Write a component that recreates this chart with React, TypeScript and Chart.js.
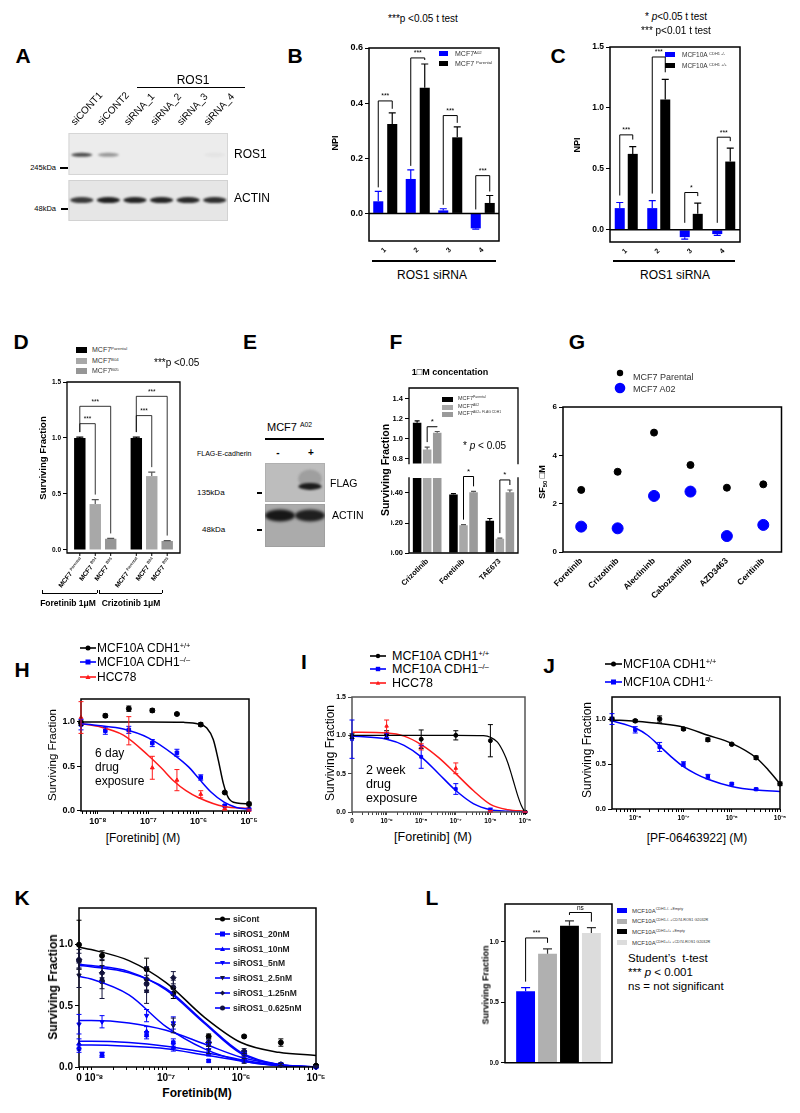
import React, { useEffect, useRef } from 'react';
import { Chart, registerables } from 'chart.js';

Chart.register(...registerables);

const FONT = '"Liberation Sans", Arial, Helvetica, sans-serif';
Chart.defaults.font.family = FONT;
Chart.defaults.color = '#000';

const BLUE = '#0000ff';
const RED = '#ff1a1a';

// ---------------- DATA ----------------
// A: western blot band intensities
const aLanes = ['siCONT1', 'siCONT2', 'siRNA_1', 'siRNA_2', 'siRNA_3', 'siRNA_4'];
const aRos1Band = [0.72, 0.38, 0, 0, 0, 0.04];
const aActinBand = [0.8, 0.92, 0.9, 0.9, 0.88, 0.85];

// B
const bSiRNA = ['1', '2', '3', '4'];
const bA02 = [0.044, 0.125, 0.011, -0.054];
const bA02Err = [0.036, 0.033, 0.006, 0.003];
const bParental = [0.324, 0.456, 0.276, 0.038];
const bParentalErr = [0.041, 0.086, 0.038, 0.027];
const bSig = [0.408, 0.564, 0.355, 0.137];
const bSigText = ['***', '***', '***', '***'];
const bYTicks = [0, 0.2, 0.4, 0.6];

// C
const cSiRNA = ['1', '2', '3', '4'];
const cKO = [0.178, 0.178, -0.06, -0.035];
const cKOErr = [0.046, 0.062, 0.016, 0.011];
const cWT = [0.623, 1.07, 0.131, 0.56];
const cWTErr = [0.06, 0.165, 0.088, 0.11];
const cSig = [0.779, 1.418, 0.306, 0.76];
const cSigText = ['***', '***', '*', '***'];
const cYTicks = [0, 0.5, 1.0, 1.5];

// D
const dDrugs = ['Foretinib 1μM', 'Crizotinib 1μM'];
const dParental = [1.0, 1.0];
const dParentalErr = [0.008, 0.008];
const dB04 = [0.41, 0.66];
const dB04Err = [0.04, 0.035];
const dB05 = [0.1, 0.08];
const dB05Err = [0.003, 0.004];
const dSigNear = [1.128, 1.2];
const dSigFar = [1.283, 1.372];
const dBarLabels = [['MCF7', 'Parental'], ['MCF7', 'B04'], ['MCF7', 'B05']];
const dYTicks = [0, 0.5, 1.0, 1.5];

// E: blot
const eLanes = ['-', '+'];
const eFlagBand = [0, 0.92];
const eActinBand = [0.95, 0.9];

// F
const fDrugs = ['Crizotinib', 'Foretinib', 'TAE673'];
const fParental = [1.16, 0.39, 0.215];
const fParentalErr = [0.02, 0.006, 0.015];
const fA02 = [0.89, 0.185, 0.095];
const fA02Err = [0.025, 0.004, 0.004];
const fFlag = [1.06, 0.405, 0.405];
const fFlagErr = [0.012, 0.006, 0.015];
const fSig = [1.12, 0.51, 0.487];
const fUpperTicks = [0.8, 1.0, 1.2, 1.4];
const fLowerTicks = [0, 0.2, 0.4];

// G
const gDrugs = ['Foretinib', 'Crizotinib', 'Alectininb', 'Cabozantinib', 'AZD3463', 'Ceritinib'];
const gParental = [2.57, 3.32, 4.94, 3.6, 2.66, 2.8];
const gA02 = [1.05, 0.98, 2.32, 2.5, 0.66, 1.12];
const gYTicks = [0, 2, 4, 6];

// H
const hConc = [4.6e-9, 1.4e-8, 4.1e-8, 1.2e-7, 3.7e-7, 1.1e-6, 3.3e-6, 1e-5];
const hWT = [0.99, 1.07, 1.15, 1.13, 1.09, 0.97, 0.2, 0.07];
const hWTErr = [0.03, 0.02, 0.03, 0.02, 0.01, 0.02, 0.01, 0.02];
const hKO = [0.97, 0.9, 0.91, 0.76, 0.65, 0.37, 0.05, 0.01];
const hKOErr = [0.06, 0.04, 0.04, 0.04, 0.04, 0.03, 0.01, 0.01];
const hHCC = [1.05, null, 0.9, 0.48, 0.34, 0.18, 0.02, 0.0];
const hHCCErr = [0.18, null, 0.16, 0.13, 0.12, 0.04, 0.02, 0.01];
const hWTFitX = [4.6e-9, 1e-7, 5e-7, 1e-6, 1.45e-6, 1.95e-6, 2.45e-6, 3.1e-6, 3.9e-6, 5.75e-6, 1e-5];
const hWTFitY = [1.0, 1.0, 0.995, 0.975, 0.93, 0.8, 0.57, 0.3, 0.14, 0.08, 0.07];
const hKOFitX = [4.6e-9, 1e-8, 3.2e-8, 1e-7, 3.2e-7, 6.3e-7, 1e-6, 1.8e-6, 3.2e-6, 5.6e-6, 1e-5];
const hKOFitY = [0.98, 0.96, 0.92, 0.82, 0.63, 0.49, 0.36, 0.2, 0.09, 0.03, 0.01];
const hHCCFitX = [4.6e-9, 1e-8, 3.2e-8, 1e-7, 1.8e-7, 3.2e-7, 5.6e-7, 1e-6, 3.2e-6, 1e-5];
const hHCCFitY = [0.98, 0.95, 0.85, 0.62, 0.48, 0.33, 0.22, 0.14, 0.04, 0.02];
const hXTicks = [1e-8, 1e-7, 1e-6, 1e-5];
const hXTickLabels = ['10⁻⁸', '10⁻⁷', '10⁻⁶', '10⁻⁵'];
const hYTicks = [0, 0.5, 1.0];

// I
const iConc = [1e-10, 1e-9, 1e-8, 1e-7, 1e-6, 1e-5];
const iWT = [0.99, 1.01, 0.95, 1.0, 0.93, 0.0];
const iWTErr = [0.03, 0.05, 0.12, 0.06, 0.21, 0.01];
const iKO = [0.95, 1.0, 0.72, 0.3, 0.03, 0.0];
const iKOErr = [0.25, 0.03, 0.15, 0.07, 0.02, 0.0];
const iHCC = [null, 1.12, 0.85, 0.57, 0.01, 0.0];
const iHCCErr = [null, 0.08, 0.04, 0.07, 0.01, 0.0];
const iWTFitX = [1e-10, 1e-8, 1e-7, 6.3e-7, 1e-6, 1.6e-6, 2.5e-6, 3.2e-6, 4e-6, 5e-6, 6.3e-6, 7.9e-6, 1e-5];
const iWTFitY = [1.0, 1.0, 1.0, 0.995, 0.975, 0.91, 0.76, 0.64, 0.5, 0.35, 0.2, 0.08, 0.0];
const iFitX = [1e-10, 1e-9, 3.2e-9, 1e-8, 3.2e-8, 1e-7, 3.2e-7, 1e-6, 3.2e-6, 1e-5];
const iHCCFitY = [1.04, 1.03, 0.99, 0.88, 0.71, 0.5, 0.28, 0.1, 0.03, 0.01];
const iKOFitY = [0.99, 0.95, 0.87, 0.72, 0.5, 0.28, 0.11, 0.03, 0.01, 0.0];
const iXTicks = [1e-10, 1e-9, 1e-8, 1e-7, 1e-6, 1e-5];
const iXTickLabels = ['0', '10⁻⁹', '10⁻⁸', '10⁻⁷', '10⁻⁶', '10⁻⁵'];
const iYTicks = [0, 0.5, 1.0, 1.5];

// J
const jConc = [3.3e-9, 1e-8, 3.2e-8, 1e-7, 3.2e-7, 1e-6, 3.2e-6, 1e-5];
const jWT = [1.0, 0.98, 1.0, 0.89, 0.77, 0.72, 0.57, 0.28];
const jWTErr = [0.02, 0.015, 0.035, 0.015, 0.02, 0.01, 0.02, 0.02];
const jKO = [1.0, 0.88, 0.69, 0.5, 0.36, 0.28, 0.22, null];
const jKOErr = [0.06, 0.035, 0.05, 0.025, 0.025, 0.01, 0.01, null];
const jWTFitX = [3.3e-9, 1e-8, 3.2e-8, 1e-7, 3.2e-7, 1e-6, 3.2e-6, 5.6e-6, 1e-5];
const jWTFitY = [0.99, 0.975, 0.95, 0.91, 0.82, 0.73, 0.57, 0.44, 0.28];
const jKOFitX = [3.3e-9, 1e-8, 1.8e-8, 3.2e-8, 5.6e-8, 1e-7, 1.8e-7, 3.2e-7, 1e-6, 3.2e-6, 1e-5];
const jKOFitY = [0.98, 0.9, 0.82, 0.7, 0.58, 0.47, 0.39, 0.33, 0.25, 0.21, 0.195];
const jXTicks = [1e-8, 1e-7, 1e-6, 1e-5];
const jXTickLabels = ['10⁻⁸', '10⁻⁷', '10⁻⁶', '10⁻⁵'];
const jYTicks = [0, 0.5, 1.0];

// K
const kSeries = ['siCont', 'siROS1_20nM', 'siROS1_10nM', 'siROS1_5nM', 'siROS1_2.5nM', 'siROS1_1.25nM', 'siROS1_0.625nM'];
const kConc = [6.9e-9, 1.4e-8, 5.5e-8, 1.25e-7, 3.7e-7, 1.1e-6, 3.4e-6, 1e-5];
const kSiCont = [1.0, 0.91, 0.8, 0.6, 0.25, 0.25, 0.2, 0.01];
const kSiContErr = [0.2, 0.04, 0.09, 0.04, 0.02, 0.01, 0.03, 0.01];
const k20 = [0.15, 0.1, 0.26, 0.2, 0.05, 0.05, 0.02, 0.0];
const k20Err = [0.03, 0.02, 0.03, 0.03, 0.01, 0.01, 0.01, 0.0];
const k10 = [0.19, 0.1, 0.29, 0.16, 0.11, 0.07, 0.02, 0.0];
const k10Err = [0.04, 0.02, 0.04, 0.03, 0.02, 0.01, 0.01, 0.0];
const k5 = [0.35, 0.37, 0.42, 0.36, 0.18, 0.11, 0.02, 0.0];
const k5Err = [0.08, 0.05, 0.05, 0.05, 0.03, 0.02, 0.01, 0.0];
const k2p5 = [0.75, 0.72, 0.62, 0.34, 0.14, 0.05, 0.02, 0.0];
const k2p5Err = [0.1, 0.16, 0.1, 0.06, 0.03, 0.02, 0.01, 0.0];
const k1p25 = [0.88, 0.77, 0.72, 0.73, 0.2, 0.13, 0.02, 0.0];
const k1p25Err = [0.08, 0.06, 0.1, 0.05, 0.03, 0.02, 0.01, 0.0];
const k0p625 = [0.87, 0.7, 0.68, 0.65, 0.2, 0.11, 0.02, 0.01];
const k0p625Err = [0.06, 0.06, 0.07, 0.06, 0.03, 0.02, 0.01, 0.0];
const kFitX = [6.9e-9, 1e-8, 3.2e-8, 1e-7, 3.2e-7, 1e-6, 3.2e-6, 1e-5];
const kSiContFit = [0.98, 0.96, 0.87, 0.69, 0.41, 0.2, 0.12, 0.095];
const k20Fit = [0.18, 0.18, 0.17, 0.15, 0.1, 0.05, 0.012, 0.0];
const k10Fit = [0.21, 0.21, 0.2, 0.17, 0.12, 0.06, 0.015, 0.0];
const k5Fit = [0.38, 0.38, 0.36, 0.3, 0.19, 0.08, 0.02, 0.0];
const k2p5Fit = [0.74, 0.72, 0.59, 0.33, 0.15, 0.05, 0.01, 0.0];
const k1p25Fit = [0.83, 0.82, 0.77, 0.64, 0.37, 0.12, 0.02, 0.0];
const k0p625Fit = [0.84, 0.83, 0.78, 0.63, 0.36, 0.11, 0.02, 0.0];
const kXTicks = [6.9e-9, 1e-8, 1e-7, 1e-6, 1e-5];
const kXTickLabels = ['0', '  10⁻⁸', '10⁻⁷', '10⁻⁶', '10⁻⁵'];
const kYTicks = [0, 0.5, 1.0];

// L
const lGroups = ['CDH1-/- +Empty', 'CDH1-/- +CD74-ROS1 G2032R', 'CDH1+/+ +Empty', 'CDH1+/+ +CD74-ROS1 G2032R'];
const lValues = [0.59, 0.9, 1.13, 1.07];
const lErr = [0.03, 0.04, 0.04, 0.045];
const lSig = [1.03, 1.24];
const lSigText = ['***', 'ns'];
const lYTicks = [0, 0.5, 1.0];
const lColors = [BLUE, '#b0b0b0', '#000', '#dcdcdc'];

// ---------------- helpers ----------------
type Pad = { l: number; t: number; r: number; b: number };
function box(L: number, T: number, R: number, B: number, yw: number, xh: number, pad: Pad) {
  const left = L - yw - pad.l;
  const top = T - pad.t;
  return { rect: [left, top, R + pad.r - left, B + xh + pad.b - top], pad, yw, xh };
}

function opts(b: any, scales: any) {
  return {
    responsive: false,
    maintainAspectRatio: false,
    animation: false,
    devicePixelRatio: 1,
    events: [],
    layout: { padding: { left: b.pad.l, top: b.pad.t, right: b.pad.r, bottom: b.pad.b } },
    scales,
    plugins: { legend: { display: false }, tooltip: { enabled: false } },
  };
}

function linY(min: number, max: number, ticks: number[], dec: number, size: number, yw: number, color = '#000') {
  return {
    type: 'linear',
    min,
    max,
    grid: { display: true, drawOnChartArea: false, drawTicks: true, tickLength: 4, color, lineWidth: 1 },
    border: { display: false },
    ticks: { font: { size, weight: 'bold', family: FONT }, color: '#000', padding: 2, callback: (v: any) => Number(v).toFixed(dec) },
    afterBuildTicks: (s: any) => { s.ticks = ticks.map((v) => ({ value: v })); },
    afterFit: (s: any) => { s.width = yw; },
  };
}

function catX(xh: number, size: number, rot: number, pad: number, display = true) {
  return {
    type: 'category',
    display,
    offset: true,
    grid: { display: false, drawTicks: false },
    border: { display: false },
    ticks: { font: { size, weight: 'bold', family: FONT }, color: '#000', minRotation: rot, maxRotation: rot, autoSkip: false, padding: pad },
    afterFit: (s: any) => { s.height = xh; },
  };
}

function logTicks(min: number, max: number, major: number[]) {
  const out = [...major];
  for (let d = Math.floor(Math.log10(min)); d <= Math.ceil(Math.log10(max)); d++) {
    for (let k = 2; k <= 9; k++) {
      const v = k * Math.pow(10, d);
      if (v > min * 1.0001 && v < max * 0.9999) out.push(v);
    }
  }
  return out.sort((a, b) => a - b);
}

function logX(min: number, max: number, vals: number[], labels: string[], size: number, xh: number, bold = false, color = '#000') {
  return {
    type: 'logarithmic',
    min,
    max,
    grid: { display: true, drawOnChartArea: false, drawTicks: true, tickLength: 3, color, lineWidth: 1 },
    border: { display: false },
    ticks: {
      autoSkip: false,
      maxRotation: 0,
      minRotation: 0,
      padding: 2,
      color: '#000',
      font: { size, weight: bold ? 'bold' : 'normal', family: FONT },
      callback: (v: any) => {
        const k = vals.findIndex((t) => Math.abs(t - v) / t < 1e-4);
        return k >= 0 ? labels[k] : '';
      },
    },
    afterBuildTicks: (s: any) => { s.ticks = logTicks(min, max, vals).map((v) => ({ value: v })); },
    afterFit: (s: any) => { s.height = xh; },
  };
}

// ---------------- plugins ----------------
function framePlugin(o: { sides: string; width?: number; color?: string; zero?: boolean }) {
  return {
    id: 'frame',
    afterDatasetsDraw(chart: any) {
      const { left, right, top, bottom } = chart.chartArea;
      const ctx = chart.ctx;
      ctx.save();
      ctx.strokeStyle = o.color || '#000';
      ctx.lineWidth = o.width || 1.5;
      ctx.lineCap = 'square';
      ctx.beginPath();
      if (o.sides.includes('t')) { ctx.moveTo(left, top); ctx.lineTo(right, top); }
      if (o.sides.includes('b')) { ctx.moveTo(left, bottom); ctx.lineTo(right, bottom); }
      if (o.sides.includes('l')) { ctx.moveTo(left, top); ctx.lineTo(left, bottom); }
      if (o.sides.includes('r')) { ctx.moveTo(right, top); ctx.lineTo(right, bottom); }
      if (o.zero) {
        const y = chart.scales.y.getPixelForValue(0);
        ctx.moveTo(left, y); ctx.lineTo(right, y);
      }
      ctx.stroke();
      ctx.restore();
    },
  };
}

const errPlugin = {
  id: 'errs',
  afterDatasetsDraw(chart: any) {
    const ctx = chart.ctx;
    const area = chart.chartArea;
    chart.data.datasets.forEach((ds: any, di: number) => {
      if (!ds.err) return;
      const meta = chart.getDatasetMeta(di);
      const ys = chart.scales[meta.yAxisID];
      ctx.save();
      ctx.beginPath();
      ctx.rect(0, area.top - 3, chart.width, area.bottom - area.top + 6);
      ctx.clip();
      ctx.strokeStyle = ds.errColor || '#000';
      ctx.lineWidth = ds.errWidth || 1.2;
      meta.data.forEach((el: any, i: number) => {
        const e = ds.err[i];
        const raw = ds.data[i];
        if (e == null || raw == null) return;
        const v = typeof raw === 'number' ? raw : raw.y;
        if (v == null) return;
        const cap = ds.cap ?? 3;
        const y0 = ys.getPixelForValue(v);
        const draw = (val: number) => {
          const y = ys.getPixelForValue(val);
          ctx.beginPath();
          ctx.moveTo(el.x, y0);
          ctx.lineTo(el.x, y);
          ctx.moveTo(el.x - cap, y);
          ctx.lineTo(el.x + cap, y);
          ctx.stroke();
        };
        if (ds.errMode === 'up') draw(v >= 0 ? v + e : v - e);
        else { draw(v + e); draw(v - e); }
      });
      ctx.restore();
    });
  },
};

function bracketPlugin(items: any[], o: { gap: number; size: number; width?: number }) {
  return {
    id: 'brackets',
    afterDatasetsDraw(chart: any) {
      const ctx = chart.ctx;
      const ys = chart.scales.y;
      const topOf = (di: number, i: number) => {
        const ds = chart.data.datasets[di];
        const v = ds.data[i];
        const e = ds.err ? ds.err[i] || 0 : 0;
        return v >= 0 ? v + e : 0;
      };
      ctx.save();
      ctx.strokeStyle = '#000';
      ctx.fillStyle = '#000';
      ctx.lineWidth = o.width || 1;
      ctx.font = `${o.size}px ${FONT}`;
      ctx.textAlign = 'center';
      ctx.textBaseline = 'bottom';
      for (const it of items) {
        const ea = chart.getDatasetMeta(it.a).data[it.i];
        const eb = chart.getDatasetMeta(it.b).data[it.i];
        const yA = ys.getPixelForValue(topOf(it.a, it.i)) - o.gap;
        const yB = ys.getPixelForValue(topOf(it.b, it.i)) - o.gap;
        const yL = ys.getPixelForValue(it.y);
        ctx.beginPath();
        ctx.moveTo(ea.x, yA);
        ctx.lineTo(ea.x, yL);
        ctx.lineTo(eb.x, yL);
        ctx.lineTo(eb.x, yB);
        ctx.stroke();
        ctx.fillText(it.text, (ea.x + eb.x) / 2, yL - 1);
      }
      ctx.restore();
    },
  };
}

function blotPlugin(strips: any[]) {
  return {
    id: 'blot',
    beforeDatasetsDraw(chart: any) {
      const ctx = chart.ctx;
      const { left, right, top, bottom } = chart.chartArea;
      const H = bottom - top;
      const xs = chart.scales.x;
      const laneW = (right - left) / chart.data.labels.length;
      for (const s of strips) {
        const y1 = top + s.from * H;
        const y2 = top + s.to * H;
        ctx.save();
        ctx.fillStyle = s.bg;
        ctx.fillRect(left, y1, right - left, y2 - y1);
        ctx.strokeStyle = s.edge;
        ctx.lineWidth = 1;
        ctx.strokeRect(left + 0.5, y1 + 0.5, right - left - 1, y2 - y1 - 1);
        ctx.restore();
        const by = y1 + s.pos * (y2 - y1);
        s.bands.forEach((a: number, i: number) => {
          if (!a) return;
          const cx = xs.getPixelForValue(i);
          ctx.save();
          ctx.beginPath();
          ctx.rect(left, y1, right - left, y2 - y1);
          ctx.clip();
          ctx.filter = `blur(${s.blur}px)`;
          if (s.halo) {
            ctx.fillStyle = `rgba(60,60,60,${a * s.halo})`;
            ctx.beginPath();
            ctx.ellipse(cx, by - s.h * 1.1, (laneW * s.w) / 2, s.h * 1.3, 0, 0, Math.PI * 2);
            ctx.fill();
          }
          ctx.fillStyle = `rgba(15,15,15,${a})`;
          ctx.beginPath();
          ctx.ellipse(cx, by, (laneW * s.w) / 2, s.h / 2, 0, 0, Math.PI * 2);
          ctx.fill();
          ctx.restore();
        });
      }
    },
  };
}

function barLabelPlugin(labels: string[][], size: number, angle: number) {
  return {
    id: 'barLabels',
    afterDraw(chart: any) {
      const ctx = chart.ctx;
      const ang = (angle * Math.PI) / 180;
      const bottom = chart.chartArea.bottom;
      chart.data.datasets.forEach((_ds: any, di: number) => {
        const meta = chart.getDatasetMeta(di);
        const [main, sup] = labels[di];
        meta.data.forEach((el: any) => {
          ctx.save();
          ctx.strokeStyle = '#000';
          ctx.lineWidth = 1;
          ctx.beginPath();
          ctx.moveTo(el.x, bottom);
          ctx.lineTo(el.x, bottom + 3);
          ctx.stroke();
          ctx.translate(el.x + 2, bottom + 6);
          ctx.rotate(-ang);
          ctx.font = `bold ${size}px ${FONT}`;
          const w1 = ctx.measureText(main + ' ').width;
          ctx.font = `bold ${size * 0.62}px ${FONT}`;
          const w2 = ctx.measureText(sup).width;
          const total = w1 + w2;
          ctx.textAlign = 'left';
          ctx.textBaseline = 'middle';
          ctx.fillStyle = '#000';
          ctx.font = `bold ${size}px ${FONT}`;
          ctx.fillText(main + ' ', -total, 0);
          ctx.fillStyle = '#333';
          ctx.font = `bold ${size * 0.62}px ${FONT}`;
          ctx.fillText(sup, -total + w1, -size * 0.3);
          ctx.restore();
        });
      });
    },
  };
}

function pts(xs: number[], ys: (number | null)[], es: (number | null)[], color: string, style: string, r = 2.5, rot = 0) {
  const idx = xs.map((_, i) => i).filter((i) => ys[i] != null);
  return {
    data: idx.map((i) => ({ x: xs[i], y: ys[i] })),
    err: idx.map((i) => es[i]),
    errColor: color,
    cap: 2.5,
    errWidth: 1,
    showLine: false,
    pointStyle: style,
    rotation: rot,
    pointRadius: r,
    pointBackgroundColor: color,
    pointBorderColor: color,
    borderColor: color,
    backgroundColor: color,
    clip: false,
  };
}

function fit(xs: number[], ys: number[], color: string, w = 1.5) {
  return {
    data: xs.map((x, i) => ({ x, y: ys[i] })),
    showLine: true,
    pointRadius: 0,
    borderColor: color,
    borderWidth: w,
    cubicInterpolationMode: 'monotone',
    fill: false,
  };
}

// ---------------- chart definitions ----------------
const bBox = box(369, 48, 499, 241, 30, 14, { l: 2, t: 8, r: 6, b: 0 });
const cBox = box(610, 47, 740, 242, 28, 14, { l: 2, t: 8, r: 6, b: 0 });
const dBox = box(67, 382, 180, 553, 20, 0, { l: 20, t: 8, r: 6, b: 40 });
const fUBox = box(409, 388, 518, 468, 18, 0, { l: 6, t: 10, r: 6, b: 2 });
const fLBox = box(409, 478, 518, 553, 18, 42, { l: 6, t: 10, r: 6, b: 0 });
const gBox = box(563, 407, 782, 552, 20, 48, { l: 12, t: 8, r: 6, b: 0 });
const hBox = box(81, 699, 249, 811, 24, 18, { l: 2, t: 8, r: 12, b: 0 });
const iBox = box(352, 697, 525, 812, 18, 16, { l: 2, t: 8, r: 12, b: 0 });
const jBox = box(612, 697, 780, 809, 18, 16, { l: 2, t: 8, r: 12, b: 0 });
const kBox = box(79, 908, 316, 1067, 20, 18, { l: 2, t: 8, r: 12, b: 0 });
const lBox = box(505, 904, 612, 1065, 15, 0, { l: 2, t: 8, r: 4, b: 4 });
const aBox = { rect: [68, 81, 182, 140], pad: { l: 0, t: 2, r: 22, b: 0 }, yw: 0, xh: 50 };
const eBox = { rect: [265, 463, 60, 84], pad: { l: 0, t: 0, r: 0, b: 0 }, yw: 0, xh: 0 };

const barDs = (data: number[], err: number[], color: string, errColor: string, cp: number, bp: number, cap: number) => ({
  data,
  err,
  errMode: 'up',
  errColor,
  cap,
  backgroundColor: color,
  borderWidth: 0,
  categoryPercentage: cp,
  barPercentage: bp,
  clip: 0,
});

const charts: { rect: number[]; make: () => any }[] = [
  // A blot
  {
    rect: aBox.rect,
    make: () => ({
      type: 'bar',
      data: { labels: aLanes, datasets: [] },
      options: opts(aBox, {
        x: {
          type: 'category',
          position: 'top',
          offset: true,
          grid: { display: false, drawTicks: false },
          border: { display: false },
          ticks: { font: { size: 10, family: FONT }, color: '#000', minRotation: 47, maxRotation: 47, autoSkip: false, padding: 5 },
          afterFit: (s: any) => { s.height = aBox.xh; },
        },
        y: { display: false, min: 0, max: 1 },
      }),
      plugins: [
        blotPlugin([
          { from: 0, to: 0.477, bg: '#ececec', edge: '#d6d6d6', bands: aRos1Band, pos: 0.52, w: 0.8, h: 4, blur: 0.9 },
          { from: 0.534, to: 1, bg: '#e6e6e6', edge: '#d2d2d2', bands: aActinBand, pos: 0.49, w: 0.88, h: 6, blur: 1 },
        ]),
      ],
    }),
  },
  // B
  {
    rect: bBox.rect,
    make: () => ({
      type: 'bar',
      data: {
        labels: bSiRNA,
        datasets: [
          barDs(bA02, bA02Err, BLUE, BLUE, 0.86, 0.72, 3.5),
          barDs(bParental, bParentalErr, '#000', '#000', 0.86, 0.72, 3.5),
        ],
      },
      options: opts(bBox, { x: catX(bBox.xh, 7, 45, 5), y: linY(-0.1, 0.6, bYTicks, 1, 9, bBox.yw) }),
      plugins: [
        framePlugin({ sides: 'tlbr', width: 1.5, zero: true }),
        errPlugin,
        bracketPlugin(bSig.map((y, i) => ({ i, a: 0, b: 1, y, text: bSigText[i] })), { gap: 4, size: 7 }),
      ],
    }),
  },
  // C
  {
    rect: cBox.rect,
    make: () => ({
      type: 'bar',
      data: {
        labels: cSiRNA,
        datasets: [
          barDs(cKO, cKOErr, BLUE, BLUE, 0.8, 0.77, 3.5),
          barDs(cWT, cWTErr, '#000', '#000', 0.8, 0.77, 3.5),
        ],
      },
      options: opts(cBox, { x: catX(cBox.xh, 7, 45, 5), y: linY(-0.1, 1.5, cYTicks, 1, 8.5, cBox.yw) }),
      plugins: [
        framePlugin({ sides: 'tlbr', width: 1.5, zero: true }),
        errPlugin,
        bracketPlugin(cSig.map((y, i) => ({ i, a: 0, b: 1, y, text: cSigText[i] })), { gap: 7, size: 7 }),
      ],
    }),
  },
  // D
  {
    rect: dBox.rect,
    make: () => ({
      type: 'bar',
      data: {
        labels: dDrugs,
        datasets: [
          barDs(dParental, dParentalErr, '#000', '#000', 0.82, 0.74, 3.5),
          barDs(dB04, dB04Err, '#a8a8a8', '#555', 0.82, 0.74, 3.5),
          barDs(dB05, dB05Err, '#969696', '#555', 0.82, 0.74, 3.5),
        ],
      },
      options: opts(dBox, { x: catX(0, 7, 0, 0, false), y: linY(-0.027, 1.5, dYTicks, 1, 6.5, dBox.yw) }),
      plugins: [
        framePlugin({ sides: 'tlbr', width: 1.3 }),
        errPlugin,
        bracketPlugin(
          [
            ...dSigNear.map((y, i) => ({ i, a: 0, b: 1, y, text: '***' })),
            ...dSigFar.map((y, i) => ({ i, a: 0, b: 2, y, text: '***' })),
          ],
          { gap: 5, size: 6.5, width: 0.8 }
        ),
        barLabelPlugin(dBarLabels, 6.5, 52),
      ],
    }),
  },
  // E blot
  {
    rect: eBox.rect,
    make: () => ({
      type: 'bar',
      data: { labels: eLanes, datasets: [] },
      options: opts(eBox, { x: { display: false, type: 'category', offset: true }, y: { display: false, min: 0, max: 1 } }),
      plugins: [
        blotPlugin([
          { from: 0, to: 0.464, bg: '#bdbdbd', edge: '#b0b0b0', bands: eFlagBand, pos: 0.6, w: 0.78, h: 7, blur: 1.2, halo: 0.25 },
          { from: 0.488, to: 1, bg: '#ababab', edge: '#a0a0a0', bands: eActinBand, pos: 0.27, w: 1.0, h: 12, blur: 1.5 },
        ]),
      ],
    }),
  },
  // F upper
  {
    rect: fUBox.rect,
    make: () => ({
      type: 'bar',
      data: {
        labels: fDrugs,
        datasets: [
          barDs(fParental, fParentalErr, '#000', '#000', 0.83, 0.85, 2.5),
          barDs(fA02, fA02Err, '#a8a8a8', '#555', 0.83, 0.85, 2.5),
          barDs(fFlag, fFlagErr, '#9a9a9a', '#555', 0.83, 0.85, 2.5),
        ],
      },
      options: opts(fUBox, { x: catX(0, 7, 0, 0, false), y: linY(0.75, 1.51, fUpperTicks, 1, 7.5, fUBox.yw) }),
      plugins: [
        framePlugin({ sides: 'tlr', width: 1.3 }),
        errPlugin,
        bracketPlugin([{ i: 0, a: 1, b: 2, y: fSig[0], text: '*' }], { gap: 5, size: 8 }),
      ],
    }),
  },
  // F lower
  {
    rect: fLBox.rect,
    make: () => ({
      type: 'bar',
      data: {
        labels: fDrugs,
        datasets: [
          barDs(fParental, fParentalErr, '#000', '#000', 0.83, 0.85, 2.5),
          barDs(fA02, fA02Err, '#a8a8a8', '#555', 0.83, 0.85, 2.5),
          barDs(fFlag, fFlagErr, '#9a9a9a', '#555', 0.83, 0.85, 2.5),
        ],
      },
      options: opts(fLBox, { x: catX(fLBox.xh, 7.5, 45, 4), y: linY(0, 0.5, fLowerTicks, 2, 7.5, fLBox.yw) }),
      plugins: [
        framePlugin({ sides: 'lbr', width: 1.3 }),
        errPlugin,
        bracketPlugin(
          [
            { i: 1, a: 1, b: 2, y: fSig[1], text: '*' },
            { i: 2, a: 1, b: 2, y: fSig[2], text: '*' },
          ],
          { gap: 5, size: 8 }
        ),
      ],
    }),
  },
  // G
  {
    rect: gBox.rect,
    make: () => ({
      type: 'line',
      data: {
        labels: gDrugs,
        datasets: [
          { data: gParental, showLine: false, pointRadius: 3.5, pointBackgroundColor: '#000', pointBorderColor: '#000', clip: false },
          { data: gA02, showLine: false, pointRadius: 5.5, pointBackgroundColor: BLUE, pointBorderColor: BLUE, clip: false },
        ],
      },
      options: opts(gBox, { x: catX(gBox.xh, 8.5, 45, 4), y: linY(0, 6, gYTicks, 0, 8, gBox.yw) }),
      plugins: [framePlugin({ sides: 'tlbr', width: 1.5 })],
    }),
  },
  // H
  {
    rect: hBox.rect,
    make: () => ({
      type: 'scatter',
      data: {
        datasets: [
          fit(hWTFitX, hWTFitY, '#000'),
          fit(hKOFitX, hKOFitY, BLUE),
          fit(hHCCFitX, hHCCFitY, RED),
          pts(hConc, hWT, hWTErr, '#000', 'circle'),
          pts(hConc, hKO, hKOErr, BLUE, 'rect'),
          pts(hConc, hHCC, hHCCErr, RED, 'triangle', 2.2),
        ],
      },
      options: opts(hBox, {
        x: logX(4.6e-9, 1e-5, hXTicks, hXTickLabels, 9, hBox.xh, true),
        y: linY(-0.01, 1.26, hYTicks, 1, 9, hBox.yw),
      }),
      plugins: [framePlugin({ sides: 'tlbr', width: 1.5 }), errPlugin],
    }),
  },
  // I
  {
    rect: iBox.rect,
    make: () => ({
      type: 'scatter',
      data: {
        datasets: [
          fit(iWTFitX, iWTFitY, '#000', 1.2),
          fit(iFitX, iKOFitY, BLUE),
          fit(iFitX, iHCCFitY, RED),
          pts(iConc, iWT, iWTErr, '#000', 'circle', 2),
          pts(iConc, iKO, iKOErr, BLUE, 'rect', 2),
          pts(iConc, iHCC, iHCCErr, RED, 'triangle', 2),
        ],
      },
      options: opts(iBox, {
        x: logX(1e-10, 1e-5, iXTicks, iXTickLabels, 6.5, iBox.xh, true, '#444'),
        y: linY(0, 1.5, iYTicks, 1, 7, iBox.yw, '#444'),
      }),
      plugins: [framePlugin({ sides: 'tlbr', width: 1.5, color: '#555' }), errPlugin],
    }),
  },
  // J
  {
    rect: jBox.rect,
    make: () => ({
      type: 'scatter',
      data: {
        datasets: [
          fit(jWTFitX, jWTFitY, '#000'),
          fit(jKOFitX, jKOFitY, BLUE),
          pts(jConc, jWT, jWTErr, '#000', 'circle', 2.3),
          pts(jConc, jKO, jKOErr, BLUE, 'rect', 2.3),
        ],
      },
      options: opts(jBox, {
        x: logX(3.3e-9, 1e-5, jXTicks, jXTickLabels, 6.5, jBox.xh, true),
        y: linY(0, 1.245, jYTicks, 1, 7.5, jBox.yw),
      }),
      plugins: [framePlugin({ sides: 'tlbr', width: 1.5 }), errPlugin],
    }),
  },
  // K
  {
    rect: kBox.rect,
    make: () => ({
      type: 'scatter',
      data: {
        datasets: [
          fit(kFitX, kSiContFit, '#000'),
          fit(kFitX, k20Fit, BLUE),
          fit(kFitX, k10Fit, BLUE),
          fit(kFitX, k5Fit, BLUE),
          fit(kFitX, k2p5Fit, BLUE),
          fit(kFitX, k1p25Fit, BLUE),
          fit(kFitX, k0p625Fit, BLUE),
          pts(kConc, kSiCont, kSiContErr, '#000', 'circle'),
          pts(kConc, k20, k20Err, BLUE, 'rect'),
          pts(kConc, k10, k10Err, BLUE, 'triangle'),
          pts(kConc, k5, k5Err, BLUE, 'triangle', 2.5, 180),
          pts(kConc, k2p5, k2p5Err, '#14143c', 'triangle', 2.5, 180),
          pts(kConc, k1p25, k1p25Err, '#14143c', 'rectRot', 2.8),
          pts(kConc, k0p625, k0p625Err, '#14143c', 'circle'),
        ],
      },
      options: opts(kBox, {
        x: logX(6.9e-9, 1e-5, kXTicks, kXTickLabels, 10, kBox.xh, true),
        y: linY(0, 1.3, kYTicks, 1, 10, kBox.yw),
      }),
      plugins: [framePlugin({ sides: 'tlbr', width: 1.5 }), errPlugin],
    }),
  },
  // L
  {
    rect: lBox.rect,
    make: () => ({
      type: 'bar',
      data: {
        labels: [''],
        datasets: lValues.map((v, i) => barDs([v], [lErr[i]], lColors[i], lColors[i] === BLUE ? BLUE : '#333', 0.82, 0.86, 4.5)),
      },
      options: opts(lBox, { x: catX(0, 7, 0, 0, false), y: linY(0, 1.31, lYTicks, 1, 7, lBox.yw) }),
      plugins: [
        framePlugin({ sides: 'tlbr', width: 1.5 }),
        errPlugin,
        bracketPlugin(
          [
            { i: 0, a: 0, b: 1, y: lSig[0], text: lSigText[0] },
            { i: 0, a: 2, b: 3, y: lSig[1], text: lSigText[1] },
          ],
          { gap: 6, size: 6.5 }
        ),
      ],
    }),
  },
];

// ---------------- components ----------------
function ChartBox({ rect, make }: { rect: number[]; make: () => any }) {
  const ref = useRef<HTMLCanvasElement>(null);
  useEffect(() => {
    const c = new Chart(ref.current as HTMLCanvasElement, make());
    return () => c.destroy();
  }, []);
  return (
    <canvas
      ref={ref}
      width={rect[2]}
      height={rect[3]}
      style={{ position: 'absolute', left: rect[0], top: rect[1], width: rect[2], height: rect[3] }}
    />
  );
}

function T(props: { x: number; y: number; s: number; b?: boolean; a?: 'l' | 'c' | 'r'; rot?: number; c?: string; children: any }) {
  const { x, y, s, b, a = 'l', rot, c = '#000', children } = props;
  const tx = a === 'l' ? '0' : a === 'c' ? '-50%' : '-100%';
  return (
    <div
      style={{
        position: 'absolute',
        left: x,
        top: y,
        fontSize: s,
        fontWeight: b ? 'bold' : 'normal',
        color: c,
        fontFamily: FONT,
        lineHeight: 1,
        whiteSpace: 'nowrap',
        transform: `translate(${tx},-50%)${rot ? ` rotate(${rot}deg)` : ''}`,
      }}
    >
      {children}
    </div>
  );
}

const Sup = ({ children }: { children: any }) => (
  <span style={{ fontSize: '0.62em', position: 'relative', top: '-0.55em' }}>{children}</span>
);

function Rect({ x, y, w, h, c }: { x: number; y: number; w: number; h: number; c: string }) {
  return <div style={{ position: 'absolute', left: x, top: y, width: w, height: h, background: c }} />;
}

function Mk({ cx, cy, shape, color, r = 3 }: { cx: number; cy: number; shape: string; color: string; r?: number }) {
  if (shape === 'circle') return <circle cx={cx} cy={cy} r={r} fill={color} />;
  if (shape === 'square') return <rect x={cx - r} y={cy - r} width={2 * r} height={2 * r} fill={color} />;
  if (shape === 'tri') return <polygon points={`${cx},${cy - r} ${cx + r},${cy + r * 0.8} ${cx - r},${cy + r * 0.8}`} fill={color} />;
  if (shape === 'tridown') return <polygon points={`${cx},${cy + r} ${cx + r},${cy - r * 0.8} ${cx - r},${cy - r * 0.8}`} fill={color} />;
  return <polygon points={`${cx},${cy - r} ${cx + r},${cy} ${cx},${cy + r} ${cx - r},${cy}`} fill={color} />;
}

function LegLine({ x, y, w, color, mcolor, shape, r = 3 }: { x: number; y: number; w: number; color: string; mcolor?: string; shape: string; r?: number }) {
  return (
    <svg style={{ position: 'absolute', left: x, top: y - 6, overflow: 'visible' }} width={w} height={12}>
      <line x1={0} y1={6} x2={w} y2={6} stroke={color} strokeWidth={1.6} />
      <Mk cx={w / 2} cy={6} shape={shape} color={mcolor || color} r={r} />
    </svg>
  );
}

function HLine({ x1, x2, y, w = 1 }: { x1: number; x2: number; y: number; w?: number }) {
  return <div style={{ position: 'absolute', left: x1, top: y - w / 2, width: x2 - x1, height: w, background: '#000' }} />;
}
function VLine({ x, y1, y2, w = 1 }: { x: number; y1: number; y2: number; w?: number }) {
  return <div style={{ position: 'absolute', left: x - w / 2, top: y1, width: w, height: y2 - y1, background: '#000' }} />;
}

const kLegendMarkers = [
  { shape: 'circle', color: '#000', line: '#000' },
  { shape: 'square', color: BLUE, line: BLUE },
  { shape: 'tri', color: BLUE, line: BLUE },
  { shape: 'tridown', color: BLUE, line: BLUE },
  { shape: 'tridown', color: '#14143c', line: BLUE },
  { shape: 'diamond', color: '#14143c', line: BLUE },
  { shape: 'circle', color: '#14143c', line: BLUE },
];

export default function App() {
  return (
    <div style={{ position: 'absolute', left: 0, top: 0, width: 800, height: 1113, background: '#fff', overflow: 'hidden', fontFamily: FONT }}>
      {charts.map((c, i) => (
        <ChartBox key={i} rect={c.rect} make={c.make} />
      ))}

      {/* panel letters */}
      <T x={23} y={55} s={21} b a="c">A</T>
      <T x={295} y={55} s={21} b a="c">B</T>
      <T x={558} y={55} s={21} b a="c">C</T>
      <T x={21} y={341} s={21} b a="c">D</T>
      <T x={250} y={341} s={21} b a="c">E</T>
      <T x={396} y={341} s={21} b a="c">F</T>
      <T x={577} y={341} s={21} b a="c">G</T>
      <T x={22} y={669} s={21} b a="c">H</T>
      <T x={304} y={661} s={21} b a="c">I</T>
      <T x={549} y={665} s={21} b a="c">J</T>
      <T x={22} y={897} s={21} b a="c">K</T>
      <T x={432} y={897} s={21} b a="c">L</T>

      {/* A */}
      <T x={193} y={80} s={12} a="c">ROS1</T>
      <HLine x1={137} x2={245} y={87} />
      <T x={234} y={154} s={12}>ROS1</T>
      <T x={234} y={198} s={12}>ACTIN</T>
      <T x={56} y={168} s={7.5} a="r">245kDa</T>
      <HLine x1={60} x2={68} y={168} w={1.5} />
      <T x={56} y={209} s={7.5} a="r">48kDa</T>
      <HLine x1={61} x2={68} y={209} w={1.5} />

      {/* B */}
      <T x={423} y={19} s={10} a="c">***p &lt;0.05 t test</T>
      <T x={335} y={143} s={9} b a="c" rot={-90}>NPI</T>
      <Rect x={439} y={51} w={9} h={5} c={BLUE} />
      <Rect x={439} y={61} w={9} h={5} c="#000" />
      <T x={455} y={54} s={7} c="#333">MCF7<Sup>A02</Sup></T>
      <T x={455} y={64} s={7} c="#333">MCF7 <Sup>Parental</Sup></T>
      <HLine x1={372} x2={496} y={261} w={1.3} />
      <T x={432} y={275} s={12} a="c">ROS1 siRNA</T>

      {/* C */}
      <T x={676} y={17} s={10} a="c">* <i>p</i>&lt;0.05 t test</T>
      <T x={676} y={31} s={10} a="c">*** p&lt;0.01 t test</T>
      <T x={577} y={145} s={9} b a="c" rot={-90}>NPI</T>
      <Rect x={665} y={52} w={10} h={5} c={BLUE} />
      <Rect x={665} y={63} w={10} h={5} c="#000" />
      <T x={682} y={55} s={6.5} c="#333">MCF10A <Sup>CDH1 -/-</Sup></T>
      <T x={682} y={66} s={6.5} c="#333">MCF10A <Sup>CDH1 +/+</Sup></T>
      <HLine x1={613} x2={735} y={261} w={1.3} />
      <T x={675} y={275} s={12} a="c">ROS1 siRNA</T>

      {/* D */}
      <Rect x={76} y={347} w={11} h={6} c="#000" />
      <Rect x={76} y={358} w={11} h={6} c="#a8a8a8" />
      <Rect x={76} y={368} w={11} h={6} c="#969696" />
      <T x={92} y={350} s={7} c="#333">MCF7<Sup>Parental</Sup></T>
      <T x={92} y={361} s={7} c="#333">MCF7<Sup>B04</Sup></T>
      <T x={92} y={371} s={7} c="#333">MCF7<Sup>B05</Sup></T>
      <T x={154} y={363} s={10}>***p &lt;0.05</T>
      <T x={43} y={458} s={9.5} b a="c" rot={-90}>Surviving Fraction</T>
      <HLine x1={42} x2={97} y={593} />
      <VLine x={42} y1={590} y2={593} />
      <VLine x={97} y1={590} y2={593} />
      <HLine x1={99} x2={162} y={593} />
      <VLine x={99} y1={590} y2={593} />
      <VLine x={162} y1={590} y2={593} />
      <T x={68} y={603} s={8.5} b a="c">Foretinib 1μM</T>
      <T x={131} y={603} s={8.5} b a="c">Crizotinib 1μM</T>

      {/* E */}
      <T x={267} y={427} s={11}>MCF7 <Sup>A02</Sup></T>
      <HLine x1={265} x2={324} y={439} w={2} />
      <T x={197} y={453} s={7}>FLAG-E-cadherin</T>
      <T x={278} y={453} s={10} b a="c">-</T>
      <T x={311} y={453} s={10} b a="c">+</T>
      <T x={197} y={493} s={8}>135kDa</T>
      <HLine x1={257} x2={262} y={493} w={2} />
      <T x={202} y={530} s={8}>48kDa</T>
      <HLine x1={257} x2={262} y={530} w={2} />
      <T x={330} y={483} s={10.5}>FLAG</T>
      <T x={332} y={515} s={10.5}>ACTIN</T>

      {/* F */}
      <T x={450} y={372} s={9} b a="c">1□M concentation</T>
      <T x={385} y={470} s={10.5} b a="c" rot={-90}>Surviving Fraction</T>
      <Rect x={442} y={397} w={11} h={4.5} c="#000" />
      <Rect x={442} y={405} w={11} h={4.5} c="#a8a8a8" />
      <Rect x={442} y={412} w={11} h={4.5} c="#9a9a9a" />
      <T x={458} y={399} s={5.5} c="#333">MCF7<Sup>Parental</Sup></T>
      <T x={458} y={407} s={5.5} c="#333">MCF7<Sup>A02</Sup></T>
      <T x={458} y={414} s={5.5} c="#333">MCF7<Sup>A02+ FLAG CDH1</Sup></T>
      <T x={463} y={446} s={10}>* <i>p</i> &lt; 0.05</T>

      {/* G */}
      <svg style={{ position: 'absolute', left: 610, top: 365 }} width={20} height={32}>
        <circle cx={10} cy={8} r={3.2} fill="#000" />
        <circle cx={10} cy={23} r={5.3} fill={BLUE} />
      </svg>
      <T x={633} y={377} s={9} c="#333">MCF7 Parental</T>
      <T x={633} y={389} s={9} c="#333">MCF7 A02</T>
      <T x={542} y={482} s={9} b a="c" rot={-90}>
        SF<span style={{ fontSize: '0.65em', position: 'relative', top: '0.3em' }}>50</span> □M
      </T>

      {/* H */}
      <LegLine x={80} y={648} w={16} color="#000" shape="circle" r={2.5} />
      <LegLine x={80} y={662} w={16} color={BLUE} shape="square" r={2.5} />
      <LegLine x={80} y={677} w={16} color={RED} shape="tri" r={2.5} />
      <T x={97} y={648} s={12}>MCF10A CDH1<Sup>+/+</Sup></T>
      <T x={97} y={662} s={12}>MCF10A CDH1<Sup>–/–</Sup></T>
      <T x={97} y={677} s={12}>HCC78</T>
      <T x={53} y={755} s={11.5} a="c" rot={-90}>Surviving Fraction</T>
      <T x={143} y={838} s={12} a="c">[Foretinib] (M)</T>
      <T x={95} y={753} s={12}>6 day</T>
      <T x={95} y={767} s={12}>drug</T>
      <T x={95} y={781} s={12}>exposure</T>

      {/* I */}
      <LegLine x={370} y={656} w={16} color="#000" shape="circle" r={2.2} />
      <LegLine x={370} y={669} w={16} color={BLUE} shape="square" r={2.2} />
      <LegLine x={370} y={683} w={16} color={RED} shape="tri" r={2.2} />
      <T x={392} y={656} s={12.5}>MCF10A CDH1<Sup>+/+</Sup></T>
      <T x={392} y={669} s={12.5}>MCF10A CDH1<Sup>–/–</Sup></T>
      <T x={392} y={683} s={12.5}>HCC78</T>
      <T x={330} y={753} s={12} a="c" rot={-90}>Surviving Fraction</T>
      <T x={433} y={837} s={12.5} a="c">[Foretinib] (M)</T>
      <T x={366} y={770} s={12.5}>2 week</T>
      <T x={366} y={784} s={12.5}>drug</T>
      <T x={366} y={798} s={12.5}>exposure</T>

      {/* J */}
      <LegLine x={605} y={664} w={17} color="#000" shape="circle" r={2.5} />
      <LegLine x={605} y={682} w={17} color={BLUE} shape="square" r={2.5} />
      <T x={623} y={664} s={12}>MCF10A CDH1<Sup>+/+</Sup></T>
      <T x={623} y={682} s={12}>MCF10A CDH1<Sup>-/-</Sup></T>
      <T x={587} y={750} s={12} a="c" rot={-90}>Surviving Fraction</T>
      <T x={697} y={838} s={12} a="c">[PF-06463922] (M)</T>

      {/* K */}
      {kSeries.map((name, i) => (
        <React.Fragment key={name}>
          <LegLine x={215} y={919 + i * 14.8} w={15} color={kLegendMarkers[i].line} mcolor={kLegendMarkers[i].color} shape={kLegendMarkers[i].shape} r={2.5} />
          <T x={233} y={919 + i * 14.8} s={8.5} b c="#222">{name}</T>
        </React.Fragment>
      ))}
      <T x={53} y={987} s={12} b a="c" rot={-90}>Surviving Fraction</T>
      <T x={197} y={1093} s={12} b a="c">Foretinib(M)</T>

      {/* L */}
      {lGroups.map((g, i) => (
        <React.Fragment key={g}>
          <Rect x={617} y={908 + i * 10.7} w={10} h={5} c={lColors[i]} />
          <T x={632} y={910.5 + i * 10.7} s={6} c="#333">MCF10A<Sup>{g}</Sup></T>
        </React.Fragment>
      ))}
      <T x={628} y={959} s={11.5}>Student’s&nbsp; t-test</T>
      <T x={628} y={973} s={11.5}>*** <i>p</i> &lt; 0.001</T>
      <T x={628} y={987} s={11.5}>ns = not significant</T>
      <T x={486} y={985} s={9} b a="c" rot={-90}>Surviving Fraction</T>
    </div>
  );
}
